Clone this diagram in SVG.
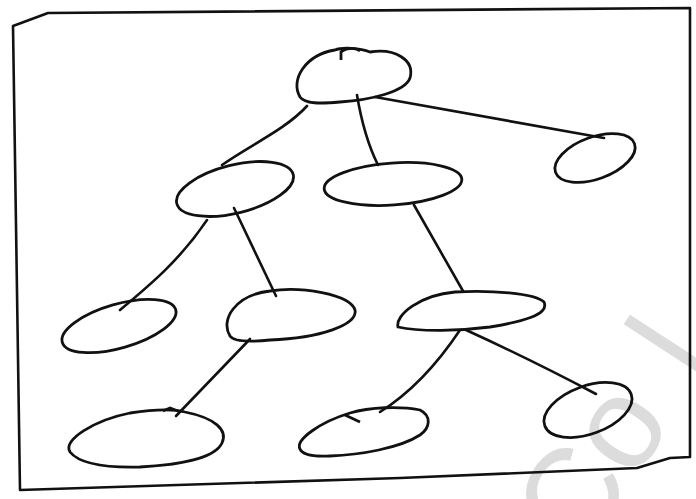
<svg xmlns="http://www.w3.org/2000/svg" width="696" height="499" viewBox="0 0 696 499">
<style>
.s{fill:none;stroke:#111;stroke-width:2.6;stroke-linecap:round;stroke-linejoin:round}
.n{fill:none;stroke:#111;stroke-width:2.8}
.wm{font-family:"Liberation Sans",Arial,sans-serif;font-size:130px;fill:#dcdcdc}
</style>
<rect width="696" height="499" fill="#fff"/>
<text class="wm" x="583" y="560" transform="rotate(-57 583 560)">Co<tspan dx="45">l</tspan></text>
<g id="frame">
<path class="s" d="M13,26 L48,13 L690,8 L690,457 L670,458 L637,468 L400,478 L20,490 L13,26"/>
</g>
<g id="connectors">
<path class="s" d="M307,106 C285,130 250,145 222,165"/>
<path class="s" d="M357,95 C362,125 368,145 378,165"/>
<path class="s" d="M375,97 L604,138"/>
<path class="s" d="M207,220 C180,260 150,285 120,310"/>
<path class="s" d="M234,208 L276,296"/>
<path class="s" d="M414,205 L463,291"/>
<path class="s" d="M250,339 L176,416"/>
<path class="s" d="M460,330 C440,360 415,390 380,412"/>
<path class="s" d="M466,330 C510,350 560,375 596,394"/>
</g>
<g id="n1"><path class="n" d="M300,97 C290,80 305,55 335,50 C342,47 360,48 370,52 C395,48 415,60 410,78 C405,92 370,100 340,102 C320,104 305,104 300,97 Z"/><path class="n" d="M341,60 L341,52 C345,48 355,47 360,51"/></g>
<g id="n2"><ellipse class="n" cx="595" cy="158" rx="42" ry="21" transform="rotate(-20 595 158)"/></g>
<g id="n3"><ellipse class="n" cx="235" cy="189" rx="60" ry="24" transform="rotate(-14 235 189)"/></g>
<g id="n4"><ellipse class="n" cx="393" cy="184" rx="69" ry="21" transform="rotate(-4 393 184)"/></g>
<g id="n5"><ellipse class="n" cx="119" cy="326" rx="59" ry="22" transform="rotate(-16 119 326)"/></g>
<g id="n6"><path class="n" d="M230,336 C220,320 235,295 270,291 C300,286 350,294 355,310 C358,325 320,338 270,340 C250,342 234,342 230,336 Z"/></g>
<g id="n7"><path class="n" d="M398,327 C395,315 420,295 455,292 C490,290 535,293 544,302 C550,315 520,322 490,327 C460,331 420,332 398,327 Z"/></g>
<g id="n8"><path class="n" d="M70,452 C62,440 95,420 130,413 C150,410 170,408 185,412 C215,418 228,430 222,443 C215,458 180,465 140,467 C100,468 78,462 70,452 Z"/><path class="n" d="M163,411 L170,408 L178,411"/></g>
<g id="n9"><path class="n" d="M300,449 C295,440 320,422 350,413 C370,407 400,406 420,410 C432,416 430,428 420,435 C400,448 360,455 330,456 C312,457 302,454 300,449 Z"/><path class="n" d="M345,415 L360,422"/></g>
<g id="n10"><ellipse class="n" cx="588" cy="410" rx="46" ry="24" transform="rotate(-20 588 410)"/></g>
</svg>
